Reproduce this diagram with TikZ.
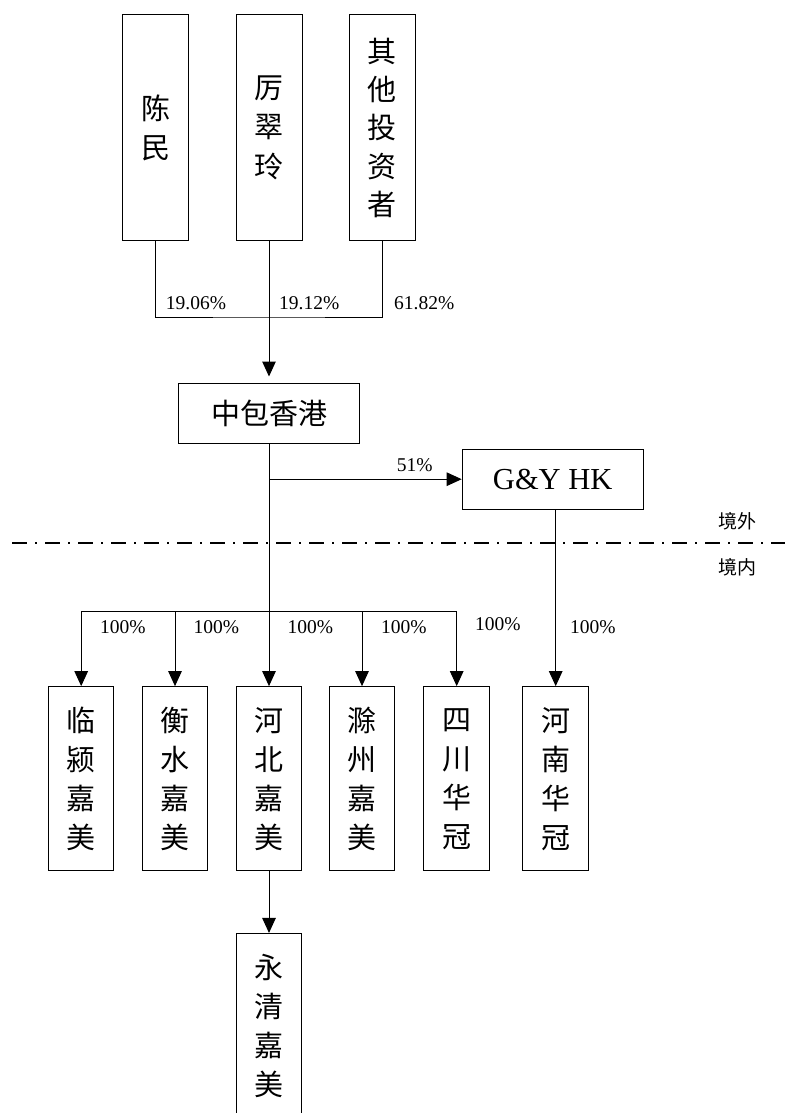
\documentclass[tikz,border=0pt]{standalone}
\usepackage{fontspec}
\setmainfont{Liberation Serif}
\newfontfamily\cjk{Noto Sans CJK SC}
\usetikzlibrary{arrows.meta}
\begin{document}
\begin{tikzpicture}[x=1pt,y=-1pt,
  box/.style={draw,line width=1pt,inner sep=0pt,align=center},
  vbox/.style={box,minimum width=66pt,minimum height=226pt,font=\cjk\fontsize{29}{39.5}\selectfont},
  hbox/.style={box,minimum width=181pt,minimum height=60pt},
  cbox/.style={box,minimum width=65.5pt,minimum height=184.3pt,font=\cjk\fontsize{29}{39}\selectfont},
  conn/.style={line width=1pt},
  arr/.style={conn,-{Triangle[length=15pt,width=13.5pt]}},
  pct/.style={font=\fontsize{19.5}{19.5}\selectfont,inner sep=0pt,anchor=west},
  zone/.style={font=\cjk\fontsize{19}{19}\selectfont,inner sep=0pt}]
\useasboundingbox (0,0) rectangle (785,1113);
% shareholders
\node[vbox] (chen) at (155.7,127.7) {陈\\民};
\node[vbox] (li) at (269,127.7) {厉\\翠\\玲};
\node[vbox,font=\cjk\fontsize{29}{38.3}\selectfont] (qita) at (382.2,127.7) {其\\他\\投\\资\\者};
% holding companies
\node[hbox,font=\cjk\fontsize{29}{29}\selectfont] (zb) at (269,413) {中包香港};
\node[hbox,font=\fontsize{30.5}{30.5}\selectfont] (gy) at (552.7,479.2) {G\&Y HK};
% subsidiaries
\node[cbox] (c1) at (81.2,778.8) {临\\颍\\嘉\\美};
\node[cbox] (c2) at (175,778.8) {衡\\水\\嘉\\美};
\node[cbox] (c3) at (269,778.8) {河\\北\\嘉\\美};
\node[cbox] (c4) at (362,778.8) {滁\\州\\嘉\\美};
\node[cbox] (c5) at (456.7,778.8) {四\\川\\华\\冠};
\node[cbox] (c6) at (555.7,778.8) {河\\南\\华\\冠};
\node[cbox] (yq) at (269,1025.6) {永\\清\\嘉\\美};
% connectors
\coordinate (b1) at (269,317);
\draw[conn] (chen.south) |- (b1) -| (qita.south);
\draw[arr,shorten >=6pt] (li.south) -- (zb.north);
\coordinate (b2) at (269,611);
\draw[conn] (zb.south) -- (b2);
\draw[arr] (zb.south |- gy.west) -- (gy.west);
\draw[arr] (b2) -| (c1.north);
\draw[arr] (b2) -| (c2.north);
\draw[arr] (b2) -- (c3.north);
\draw[arr] (b2) -| (c4.north);
\draw[arr] (b2) -| (c5.north);
\draw[arr] (gy.south -| c6.north) -- (c6.north);
\draw[arr] (c3.south) -- (yq.north);
% border line
\coordinate (dl) at (12.3,543.3);
\coordinate (dr) at (785,543.3);
\draw[line width=2pt,dash pattern=on 15pt off 8pt on 2pt off 8pt] (dl) -- (dr);
\node[zone] (out) at (737.5,521.7) {境外};
\node[zone] (in) at (737.5,567.3) {境内};
% percentages
\node[pct] (p1) at (165.7,302.7) {19.06\%};
\node[pct] (p2) at (279,302.7) {19.12\%};
\node[pct] (p3) at (394,302.7) {61.82\%};
\node[pct] (p51) at (396.7,465) {51\%};
\node[pct] (q1) at (100,626.7) {100\%};
\node[pct] (q2) at (193.5,626.7) {100\%};
\node[pct] (q3) at (287.5,626.7) {100\%};
\node[pct] (q4) at (381,626.7) {100\%};
\node[pct] (q5) at (475,624) {100\%};
\node[pct] (q6) at (570,626.7) {100\%};
\end{tikzpicture}
\end{document}
